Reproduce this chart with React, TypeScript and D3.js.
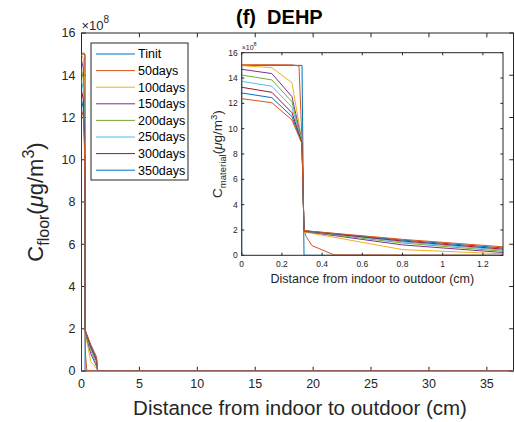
import React from "react";
import * as d3 from "d3";

// ---------- data (concentration in units of 1e8 µg/m3, distance in cm) ----------
const seriesNames = ["Tinit", "50days", "100days", "150days", "200days", "250days", "300days", "350days", "400days"];
const legendCount = 8;
const seriesColors = ["#0072BD", "#D95319", "#EDB120", "#7E2F8E", "#77AC30", "#4DBEEE", "#A2142F", "#0072BD", "#D95319"];

const xTinit = [0, 0, 0.3, 0.31, 1.3, 37.3];
const yTinit = [0, 15, 15, 0, 0, 0];

const x50 = [0, 0.15, 0.25, 0.285, 0.3, 0.31, 0.32, 0.35, 0.46, 1.3, 37.3];
const y50 = [15.05, 15.05, 15.04, 14.95, 9.0, 2.0, 1.5, 0.76, 0.03, 0, 0];

const xGrid = [0, 0.15, 0.25, 0.3, 0.31, 0.8, 1.3, 1.4, 37.3];
const y100 = [14.97, 14.82, 13.63, 9.0, 1.85, 0.45, 0.12, 0, 0];
const y150 = [14.69, 14.35, 12.53, 8.95, 1.88, 0.82, 0.22, 0, 0];
const y200 = [14.24, 13.85, 12.13, 8.9, 1.9, 0.97, 0.32, 0, 0];
const y250 = [13.74, 13.35, 11.69, 8.9, 1.92, 1.06, 0.41, 0, 0];
const y300 = [13.27, 12.87, 11.27, 8.85, 1.93, 1.13, 0.49, 0, 0];
const y350 = [12.82, 12.45, 10.96, 8.85, 1.94, 1.2, 0.58, 0, 0];
const y400 = [12.37, 12.05, 10.69, 8.8, 1.95, 1.26, 0.67, 0, 0];

const seriesX = [xTinit, x50, xGrid, xGrid, xGrid, xGrid, xGrid, xGrid, xGrid];
const seriesY = [yTinit, y50, y100, y150, y200, y250, y300, y350, y400];

const mainXTicks = [0, 5, 10, 15, 20, 25, 30, 35];
const mainYTicks = [0, 2, 4, 6, 8, 10, 12, 14, 16];
const insetXTicks = [0, 0.2, 0.4, 0.6, 0.8, 1, 1.2];
const insetXTickLabels = ["0", "0.2", "0.4", "0.6", "0.8", "1", "1.2"];
const insetYTicks = [0, 2, 4, 6, 8, 10, 12, 14, 16];

const FONT = "'Liberation Sans', Arial, Helvetica, sans-serif";
const AX = "#262626";

type Box = { l: number; r: number; t: number; b: number };

function Lines({ x, y, clipId }: { x: d3.ScaleLinear<number, number>; y: d3.ScaleLinear<number, number>; clipId: string }) {
  return (
    <g clipPath={`url(#${clipId})`}>
      {seriesY.map((ys, i) => {
        const pts: [number, number][] = ys.map((v, j) => [seriesX[i][j], v]);
        const line = d3.line<[number, number]>().x((d) => x(d[0])).y((d) => y(d[1]));
        return <path key={i} d={line(pts) || ""} fill="none" stroke={seriesColors[i]} strokeWidth={1} strokeLinejoin="round" />;
      })}
    </g>
  );
}

function AxesFrame({ box, x, y, xt, xtl, yt, tickLen, fs, xOff, yOff }: any) {
  return (
    <g>
      <rect x={box.l} y={box.t} width={box.r - box.l} height={box.b - box.t} fill="none" stroke={AX} strokeWidth={1} />
      {xt.map((v: number, i: number) => (
        <g key={"x" + i}>
          <line x1={x(v)} x2={x(v)} y1={box.b} y2={box.b - tickLen} stroke={AX} />
          <line x1={x(v)} x2={x(v)} y1={box.t} y2={box.t + tickLen} stroke={AX} />
          <text x={x(v)} y={box.b + xOff} textAnchor="middle" fontSize={fs} fill={AX} fontFamily={FONT}>
            {xtl[i]}
          </text>
        </g>
      ))}
      {yt.map((v: number, i: number) => (
        <g key={"y" + i}>
          <line x1={box.l} x2={box.l + tickLen} y1={y(v)} y2={y(v)} stroke={AX} />
          <line x1={box.r} x2={box.r - tickLen} y1={y(v)} y2={y(v)} stroke={AX} />
          <text x={box.l - yOff} y={y(v)} dy="0.35em" textAnchor="end" fontSize={fs} fill={AX} fontFamily={FONT}>
            {String(v)}
          </text>
        </g>
      ))}
    </g>
  );
}

export default function App() {
  const W = 515, H = 422;
  const mb: Box = { l: 81.5, r: 513.5, t: 33, b: 371 };
  const ib: Box = { l: 241.7, r: 503, t: 52.7, b: 255.3 };
  const mx = d3.scaleLinear().domain([0, 37.3]).range([mb.l, mb.r]);
  const my = d3.scaleLinear().domain([0, 16]).range([mb.b, mb.t]);
  const ix = d3.scaleLinear().domain([0, 1.3]).range([ib.l, ib.r]);
  const iy = d3.scaleLinear().domain([0, 16]).range([ib.b, ib.t]);

  const legX = 91, legY = 43, legW = 97, legH = 137;
  const legStep = 16.6;

  return (
    <svg width={W} height={H} style={{ position: "absolute", left: 0, top: 0, background: "#fff" }} fontFamily={FONT}>
      <defs>
        <clipPath id="mclip"><rect x={mb.l} y={mb.t} width={mb.r - mb.l} height={mb.b - mb.t} /></clipPath>
        <clipPath id="iclip"><rect x={ib.l} y={ib.t} width={ib.r - ib.l} height={ib.b - ib.t} /></clipPath>
      </defs>
      <rect x={0} y={0} width={W} height={H} fill="#fff" />

      {/* main axes */}
      <AxesFrame box={mb} x={mx} y={my} xt={mainXTicks} xtl={mainXTicks.map(String)} yt={mainYTicks} tickLen={4.3} fs={12.5} xOff={17} yOff={6} />
      <Lines x={mx} y={my} clipId="mclip" />
      <text x={mb.l} y={30} fontSize={13} fill={AX}>
        ×10<tspan dy={-7} fontSize={10}>8</tspan>
      </text>
      <text x={236} y={23.5} fontSize={20} fontWeight="bold" fill="#000" style={{ whiteSpace: "pre" }}>
        {"(f)  DEHP"}
      </text>
      <text x={300} y={415} textAnchor="middle" fontSize={20.5} fill={AX}>
        Distance from indoor to outdoor (cm)
      </text>
      <text transform={`translate(43,${(mb.t + mb.b) / 2}) rotate(-90)`} textAnchor="middle" fontSize={22} fill={AX}>
        C<tspan dy={6} fontSize={16}>floor</tspan>
        <tspan dy={-6}>(</tspan>
        <tspan fontStyle="italic">μ</tspan>
        <tspan>g/m</tspan>
        <tspan dy={-9} fontSize={16}>3</tspan>
        <tspan dy={9}>)</tspan>
      </text>

      {/* legend */}
      <rect x={legX} y={legY} width={legW} height={legH} fill="#fff" stroke={AX} strokeWidth={1} />
      {seriesNames.slice(0, legendCount).map((n, i) => {
        const cy = legY + 11 + i * legStep;
        return (
          <g key={n}>
            <line x1={96} x2={135} y1={cy} y2={cy} stroke={seriesColors[i]} strokeWidth={1} />
            <text x={138} y={cy} dy="0.35em" fontSize={12.5} fill="#000">{n}</text>
          </g>
        );
      })}

      {/* inset axes */}
      <rect x={ib.l} y={ib.t} width={ib.r - ib.l} height={ib.b - ib.t} fill="#fff" />
      <Lines x={ix} y={iy} clipId="iclip" />
      <AxesFrame box={ib} x={ix} y={iy} xt={insetXTicks} xtl={insetXTickLabels} yt={insetYTicks} tickLen={2.6} fs={8.5} xOff={11.5} yOff={4} />
      <text x={ib.l} y={ib.t - 3} fontSize={7} fill={AX}>
        ×10<tspan dy={-4} fontSize={5.5}>8</tspan>
      </text>
      <text x={(ib.l + ib.r) / 2} y={283} textAnchor="middle" fontSize={12.5} fill={AX}>
        Distance from indoor to outdoor (cm)
      </text>
      <text transform={`translate(222,${(ib.t + ib.b) / 2}) rotate(-90)`} textAnchor="middle" fontSize={13.5} fill={AX}>
        C<tspan dy={3.5} fontSize={9.5}>material</tspan>
        <tspan dy={-3.5}>(</tspan>
        <tspan fontStyle="italic">μ</tspan>
        <tspan>g/m</tspan>
        <tspan dy={-5.5} fontSize={9.5}>3</tspan>
        <tspan dy={5.5}>)</tspan>
      </text>
    </svg>
  );
}
